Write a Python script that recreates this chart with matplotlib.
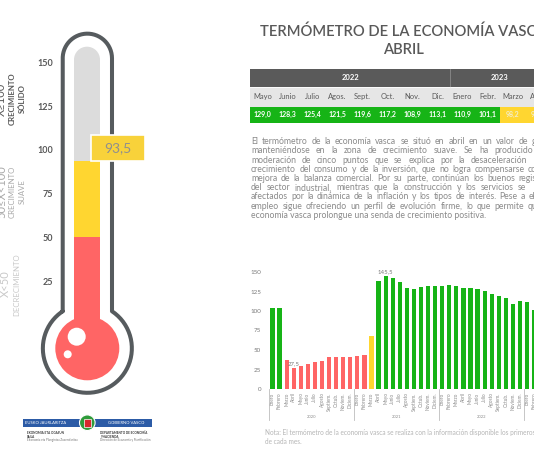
import matplotlib
matplotlib.use("Agg")
import matplotlib.pyplot as plt
import numpy as np
from matplotlib.patches import Rectangle, Circle
from matplotlib import transforms

plt.rcParams['font.family'] = ['Lato', 'DejaVu Sans']

# ---- data ----
meses = ["Enero", "Febrero", "Marzo", "Abril", "Mayo", "Junio", "Julio", "Agosto",
         "Septiem.", "Octub.", "Noviem.", "Diciem."]
anios = ["2020", "2021", "2022", "2023"]
valores = [103.8, 103.5, 37.5, 27.5, 30.0, 31.5, 34.0, 36.0, 41.5, 41.0, 40.5, 41.0,
           42.0, 43.0, 67.5, 138.5, 145.5, 142.5, 136.8, 130.0, 128.6, 130.8, 131.6, 131.6,
           132.5, 132.9, 132.0, 130.0, 129.0, 128.3, 125.4, 121.5, 119.6, 117.2, 108.9, 113.1,
           110.9, 101.1, 98.2, 93.5]
tabla_meses = ["Mayo", "Junio", "Julio", "Agos.", "Sept.", "Oct.", "Nov.", "Dic.",
               "Enero", "Febr.", "Marzo", "Abril"]
tabla_anios = ["2022", "2023"]
tabla_ncols = [8, 4]
tabla_valores = valores[-12:]
actual = valores[-1]
escala = [25, 50, 75, 100, 125, 150]

parrafo = [
    "El termómetro de la economía vasca se situó en abril en un valor de g",
    "manteniéndose en la zona de crecimiento suave. Se ha producido",
    "moderación de cinco puntos que se explica por la desaceleración",
    "crecimiento del consumo y de la inversión, que no logra compensarse co",
    "mejora de la balanza comercial. Por su parte, continúan los buenos regis",
    "del sector industrial, mientras que la construcción y los servicios se",
    "afectados por la dinámica de la inflación y los tipos de interés. Pese a ell",
    "empleo sigue ofreciendo un perfil de evolución firme, lo que permite qu",
    "economía vasca prolongue una senda de crecimiento positiva.",
]
fin_linea = [536, 533, 527, 537, 537, 526, 537, 537, None]

VERDE = "#16b416"
AMARILLO = "#ffd630"
ROJO = "#ff6565"
GRIS = "#595959"


def color_de(v):
    if v >= 100:
        return VERDE
    if v >= 50:
        return AMARILLO
    return ROJO


def coma(v):
    return f"{v:.1f}".replace(".", ",")


W, H = 534, 462
fig = plt.figure(figsize=(W / 100, H / 100), dpi=100)
fig.patch.set_facecolor("white")


def px_axes(l, t, w, h, z):
    a = fig.add_axes([l / W, (H - t - h) / H, w / W, h / H])
    a.set_zorder(z)
    a.patch.set_alpha(0)
    return a


# background pixel axes
bg = px_axes(0, 0, W, H, 0)
bg.set_xlim(0, W)
bg.set_ylim(H, 0)
bg.axis("off")

# ---- thermometer outline ----
cx = 87.35
xl, xr = 62.7, 112.0
top_c, top_r = 58.3, 24.65
bulb_c, bulb_r = 348.3, 44.5
dy = np.sqrt(bulb_r ** 2 - (cx - xl) ** 2)
th = np.linspace(np.pi, 0, 60)
top_x = cx + top_r * np.cos(th)
top_y = top_c - top_r * np.sin(th)
a0 = np.arctan2(-dy, xr - cx)
a1 = np.arctan2(-dy, xl - cx) + 2 * np.pi
ph = np.linspace(a0, a1, 120)
bx = cx + bulb_r * np.cos(ph)
by = bulb_c + bulb_r * np.sin(ph)
ox = np.concatenate([[xl], top_x, [xr], bx])
oy = np.concatenate([[bulb_c - dy], top_y, [bulb_c - dy], by])
bg.plot(ox, oy, color="#565b5e", lw=2.9, solid_capstyle="round")

# grey capsule
bg.add_patch(Circle((87, 59.7), 13, color="#dcdcdc", lw=0))
bg.add_patch(Rectangle((74, 59.7), 26, 260, color="#dcdcdc", lw=0))
bg.add_patch(Circle((87.3, 348.3), 32, color=ROJO, lw=0))

# ---- thermometer level axes ----
vmin, vmax = -12, 158.8
upx = 1.752
th_ax = px_axes(74, 325 - vmax * upx, 26, (vmax - vmin) * upx, 1)
th_ax.set_xlim(-0.5, 0.5)
th_ax.set_ylim(vmin, vmax)
th_ax.bar(0, min(actual, 50) - vmin, bottom=vmin, width=1, color=ROJO, lw=0)
if actual > 50:
    th_ax.bar(0, actual - 50, bottom=50, width=1, color=color_de(actual), lw=0)
for s in th_ax.spines.values():
    s.set_visible(False)
th_ax.set_xticks([])
th_ax.set_yticks(escala)
th_ax.set_yticklabels([str(v) for v in escala], fontsize=6.5, fontweight="bold", color=GRIS)
th_ax.tick_params(axis="y", length=0, pad=15.3)

# foreground
fg = px_axes(0, 0, W, H, 2)
fg.set_xlim(0, W)
fg.set_ylim(H, 0)
fg.axis("off")
fg.add_patch(Circle((76.7, 336.7), 9, color="white", lw=0))
fg.add_patch(Circle((67.7, 354.3), 4, color="white", lw=0))

blend = transforms.blended_transform_factory(fg.transData, th_ax.transData)
fg.add_patch(Rectangle((90.7, actual), 54.3, 15.2, transform=blend,
                       facecolor="#f8d23a", edgecolor="white", lw=1.2))
fg.text(118, actual + 7.6, coma(actual), transform=blend, ha="center", va="center",
        fontsize=10, color="#8f8f8f")

# side labels
lab = dict(rotation=90, ha="center", va="center")
fg.text(1.5, 99, "X≥100", fontsize=8, color=GRIS, **lab)
fg.text(12.5, 99, "CRECIMIENTO", fontsize=5.6, fontweight="bold", color=GRIS, **lab)
fg.text(22.5, 99, "SÓLIDO", fontsize=5.6, fontweight="bold", color=GRIS, **lab)
fg.text(1.5, 192, "50≤X<100", fontsize=8, color="#a8a8a8", **lab)
fg.text(12.5, 192, "CRECIMIENTO", fontsize=5.6, color="#a8a8a8", **lab)
fg.text(22.5, 192, "SUAVE", fontsize=5.6, color="#a8a8a8", **lab)
fg.text(5.5, 284, "X<50", fontsize=8, color="#c8c8c8", **lab)
fg.text(16.7, 285, "DECRECIMIENTO", fontsize=5.6, color="#c8c8c8", **lab)

# logo
fg.add_patch(Rectangle((23, 419.3), 129, 7.4, color="#2c5ba6", lw=0))
fg.text(46, 423, "EUSKO JAURLARITZA", ha="center", va="center", fontsize=3, color="white")
fg.text(126, 423, "GOBIERNO VASCO", ha="center", va="center", fontsize=3, color="white")
fg.add_patch(Circle((87.3, 422.7), 7.8, facecolor="#2f9b3a", edgecolor="white", lw=0.8))
fg.add_patch(Rectangle((84, 418.5), 6.6, 8.5, facecolor="#d8262e", edgecolor="white", lw=0.5))
for i, t in enumerate(["EKONOMIA ETA OGASUN", "SAILA", "Ekonomia eta Plangintza Zuzendaritza"]):
    fg.text(27, 433.3 + 3.4 * i, t, ha="left", va="center", fontsize=2.2,
            color="#333333" if i < 2 else "#777777", fontweight="bold" if i < 2 else "normal")
for i, t in enumerate(["DEPARTAMENTO DE ECONOMÍA", "Y HACIENDA", "Dirección de Economía y Planificación"]):
    fg.text(100, 433.3 + 3.4 * i, t, ha="left", va="center", fontsize=2.2,
            color="#333333" if i < 2 else "#777777", fontweight="bold" if i < 2 else "normal")

# ---- title ----
fg.text(403, 31.7, "TERMÓMETRO DE LA ECONOMÍA VASCA", ha="center", va="center",
        fontsize=10.6, fontweight="semibold", color=GRIS)
fg.text(403, 50, "ABRIL", ha="center", va="center", fontsize=10.6,
        fontweight="semibold", color=GRIS)

# ---- table ----
cw = 25.0
tb = px_axes(250, 69.3, cw * len(tabla_meses), 53.4, 2)
tb.set_xlim(0, len(tabla_meses))
tb.set_ylim(53.4, 0)
tb.axis("off")
rows = [(0, 17.4), (17.4, 20.0), (37.4, 16.0)]
tb.add_patch(Rectangle((0, rows[0][0]), len(tabla_meses), rows[0][1], color="#5a5a5a", lw=0))
tb.add_patch(Rectangle((0, rows[1][0]), len(tabla_meses), rows[1][1], color="#e6e6e6", lw=0))
start = 0
for anio, n in zip(tabla_anios, tabla_ncols):
    tb.text(start + n / 2, rows[0][1] / 2, anio, ha="center", va="center", fontsize=5.5,
            fontweight="bold", color="white")
    if start > 0:
        tb.plot([start, start], [0, rows[0][1]], color="#8a8a8a", lw=0.6)
    start += n
tb.plot([0, len(tabla_meses)], [rows[1][0]] * 2, color="white", lw=0.6)
for i, (m, v) in enumerate(zip(tabla_meses, tabla_valores)):
    tb.text(i + 0.5, rows[1][0] + rows[1][1] / 2, m, ha="center", va="center",
            fontsize=5.4, color=GRIS)
    tb.add_patch(Rectangle((i, rows[2][0]), 1, rows[2][1], color=color_de(v), lw=0))
    tb.text(i + 0.5, rows[2][0] + rows[2][1] / 2, coma(v), ha="center", va="center",
            fontsize=5.0, fontweight="bold", color="white" if v >= 100 else "#f3ecc8")

# ---- paragraph ----
renderer = fig.canvas.get_renderer()
for k, (linea, x1) in enumerate(zip(parrafo, fin_linea)):
    y = 144.2 + 9.2 * k
    kw = dict(fontsize=6.2, color="#8a8a8a", va="baseline", ha="left")
    if x1 is None:
        fg.text(251, y, linea, **kw)
        continue
    palabras = linea.split()
    objs = [fg.text(251, y, p, **kw) for p in palabras]
    anchos = [o.get_window_extent(renderer).width for o in objs]
    gap = max((x1 - 251 - sum(anchos)) / (len(palabras) - 1), 1.6)
    x = 251
    for o, a in zip(objs, anchos):
        o.set_x(x)
        x += a + gap

# ---- bar chart ----
n = len(valores)
step = 7.07
xmin, xmax = -0.64, n - 0.5
ax = px_axes(268, 389 - 152 * 0.78, (xmax - xmin) * step, 152 * 0.78, 2)
idx = np.arange(n)
ax.bar(idx, valores, width=0.6, color=[color_de(v) for v in valores], lw=0)
ax.set_xlim(xmin, xmax)
ax.set_ylim(0, 152)
for s in ax.spines.values():
    s.set_visible(False)
ax.set_yticks([0, 25, 50, 75, 100, 125, 150])
ax.tick_params(axis="y", length=0, pad=5, labelsize=4.5, labelcolor="#7a7a7a")
ax.set_xticks(idx)
ax.set_xticklabels([meses[i % 12] for i in idx], rotation=90, fontsize=3.4, color="#8c8c8c")
ax.tick_params(axis="x", length=0, pad=2.5)
for i in (int(np.argmax(valores)), int(np.argmin(valores))):
    ax.text(i, valores[i] + 1.5, coma(valores[i]), ha="center", va="bottom",
            fontsize=4.3, color="#7a7a7a")
sep = transforms.blended_transform_factory(ax.transData, ax.transAxes)
for j in range(len(anios)):
    x0 = j * 12 - 0.5
    ax.plot([x0, x0], [0, -0.265], transform=sep, clip_on=False, color="#bdbdbd", lw=0.6)
    ax.text(x0 + 6, -0.237, anios[j], transform=sep, ha="center", va="center",
            fontsize=3, color="#8c8c8c")

# note
fg.text(265, 433, "Nota: El termómetro de la economía vasca se realiza con la información "
        "disponible los primeros días", ha="left", va="center", fontsize=4.7, color="#b5b5b5")
fg.text(265, 442, "de cada mes.", ha="left", va="center", fontsize=4.7, color="#b5b5b5")

fig.savefig("out.png", dpi=100, facecolor="white")
